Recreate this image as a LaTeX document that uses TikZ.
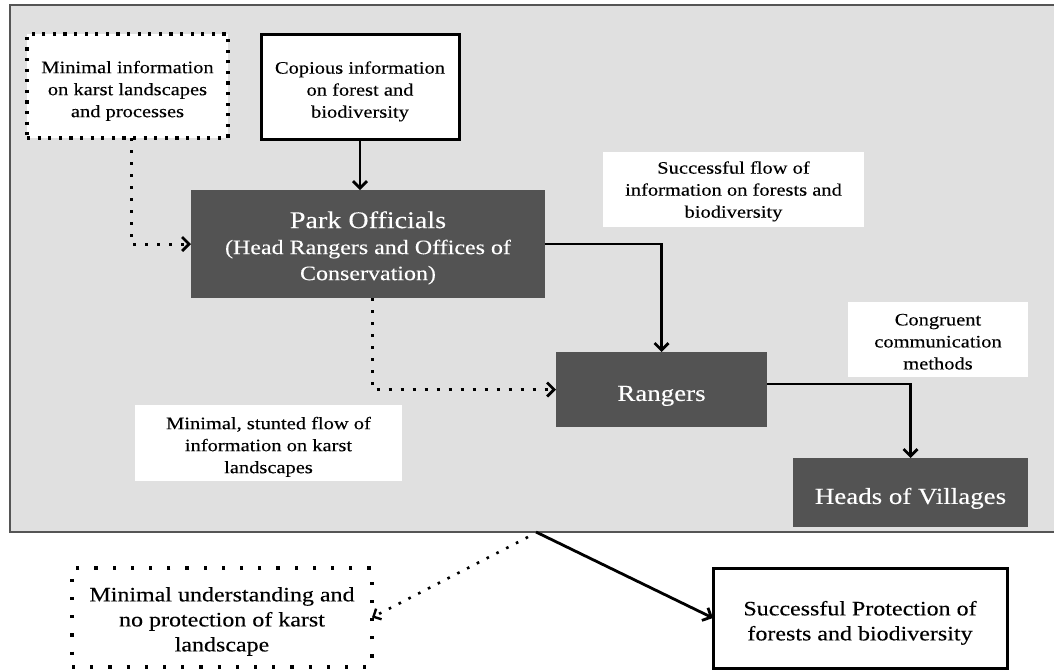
\documentclass[tikz,border=0pt]{standalone}
\usepackage{fontspec}
\setmainfont{Liberation Serif}[FakeStretch=1.17, FakeBold=0.2]
\usetikzlibrary{arrows.meta,calc}
\definecolor{panelgray}{HTML}{E0E0E0}
\definecolor{boxdark}{HTML}{535353}
\definecolor{edgegray}{HTML}{555555}

% invisible strut on a first line: pushes a centred text block down by #1
\newcommand\pushdown[1]{\rule{0pt}{\dimexpr 0.69em+2\dimexpr #1\relax\relax}}

\tikzset{
  every node/.style={align=center, inner sep=0pt, outer sep=0pt},
  labelfont/.style={font=\fontsize{17.5}{22}\selectfont},
  bigfont/.style={font=\fontsize{23}{27}\selectfont},
  lowfont/.style={font=\fontsize{20.5}{25}\selectfont},
  region/.style={fill=panelgray, draw=edgegray, line width=2.2pt},
  darkbox/.style={fill=boxdark, text=white, bigfont},
  notebox/.style={fill=white, labelfont},
  solidbox/.style={fill=white, draw=black, line width=3pt},
  dotbox/.style={fill=white, draw=black, line width=3.2pt, dash pattern=on 3.2pt off 7.4pt},
  wideDotbox/.style={fill=white, draw=black, line width=3.2pt, dash pattern=on 3.2pt off 15pt},
  tip/.style={-{Straight Barb[length=7pt,width=14pt,line width=2.8pt]}},
  flow/.style={tip, draw=black, line width=2.8pt},
  weakflow/.style={tip, draw=black, line width=3pt, dash pattern=on 3pt off 9pt},
  weakflowthin/.style={-{Straight Barb[length=6pt,width=12pt,line width=2.4pt]}, draw=black, line width=2.6pt, dash pattern=on 2.6pt off 8.4pt}
}

\begin{document}
\begin{tikzpicture}[x=1pt, y=-1pt]
  \useasboundingbox (0,0) rectangle (1054,670);

  % shaded panel holding the park hierarchy
  \node[region, minimum width=1052pt, minimum height=527pt, anchor=north west] (panel) at (10,5) {};

  % sources of information
  \node[dotbox, labelfont, minimum width=201pt, minimum height=104pt] (karstinfo) at (127.5,86)
    {\pushdown{5pt}Minimal information\\on karst landscapes\\and processes};
  \node[solidbox, labelfont, minimum width=198pt, minimum height=105pt] (forestinfo) at (360,86.5)
    {\pushdown{5pt}Copious information\\on forest and\\biodiversity};

  % actors
  \node[darkbox, font=\fontsize{20.5}{26}\selectfont, minimum width=354pt, minimum height=108pt] (park) at (368,244)
    {{\fontsize{24}{27}\selectfont\pushdown{4pt}Park Officials}\\(Head Rangers and Offices of\\Conservation)};
  \node[darkbox, minimum width=211pt, minimum height=75pt] (rangers) at (661.5,389.5)
    {\pushdown{6pt}Rangers};
  \node[darkbox, minimum width=235pt, minimum height=69pt] (heads) at (910.5,492.5)
    {\pushdown{6pt}Heads of Villages};

  % notes on the flows
  \node[notebox, minimum width=261pt, minimum height=75pt] (goodflow) at (733.5,189.5)
    {\pushdown{2pt}Successful flow of\\information on forests and\\biodiversity};
  \node[notebox, minimum width=267pt, minimum height=76pt] (stunted) at (268.5,443)
    {\pushdown{4pt}Minimal, stunted flow of\\information on karst\\landscapes};
  \node[notebox, minimum width=180pt, minimum height=75pt] (congruent) at (938,339.5)
    {\pushdown{2pt}Congruent\\communication\\methods};

  % outcomes
  \node[wideDotbox, lowfont, minimum width=300pt, minimum height=99pt] (noprotect) at (222,617.5)
    {\pushdown{4pt}Minimal understanding and\\no protection of karst\\landscape};
  \node[solidbox, lowfont, minimum width=294pt, minimum height=100pt] (protect) at (860,618)
    {\pushdown{5pt}Successful Protection of\\forests and biodiversity};

  % connectors
  \draw[flow] (forestinfo.south) -- (forestinfo.south |- park.north);
  \draw[weakflow] ($(karstinfo.south)+(3.5,0)$) |- (park.west);
  \draw[flow] (park.east) -| (rangers.north);
  \draw[weakflow] ($(park.south)+(4,0)$) |- (rangers.west);
  \draw[flow] ($(rangers.east)+(0,-5.5)$) -| (heads.north);

  \draw[flow] (panel.south) -- (protect.west);
  \draw[weakflowthin] ($(panel.south)+(-8,5)$) -- (noprotect.east);
\end{tikzpicture}
\end{document}
